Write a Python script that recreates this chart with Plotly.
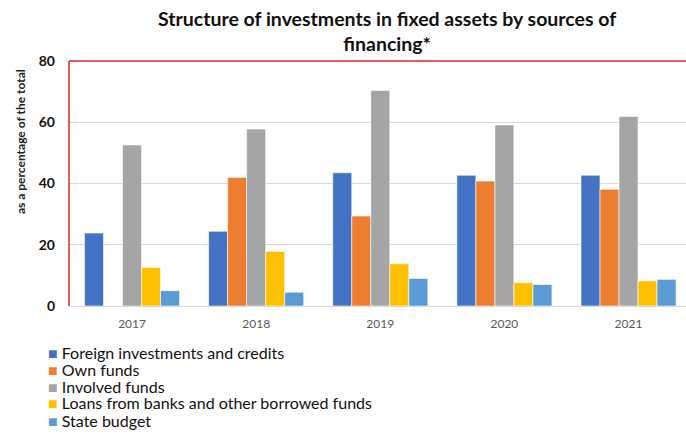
import plotly.graph_objects as go

years = ["2017", "2018", "2019", "2020", "2021"]
foreign = [23.8, 24.4, 43.5, 42.7, 42.7]
own = [None, 42.0, 29.4, 40.8, 38.1]
involved = [52.6, 57.8, 70.4, 59.1, 61.9]
loans = [12.6, 17.8, 13.8, 7.6, 8.2]
state = [5.0, 4.5, 9.0, 7.0, 8.7]

title_lines = ["Structure of investments in fixed assets by sources of", "financing*"]
y_title = "as a percentage of the total"

series = [
    ("Foreign investments and credits", foreign, "#4472C4"),
    ("Own funds", own, "#ED7D31"),
    ("Involved funds", involved, "#A5A5A5"),
    ("Loans from banks and other borrowed funds", loans, "#FFC000"),
    ("State budget", state, "#5B9BD5"),
]

fig = go.Figure()
for name, vals, col in series:
    fig.add_trace(go.Bar(x=years, y=vals, name=name, showlegend=False,
                         marker=dict(color=col, line=dict(color="white", width=0.6))))

W, H = 686, 434
L, R, T, B = 69, 0, 61, 128
PW, PH = W - L - R, H - T - B

def px_x(x):
    return (x - L) / PW

def px_y(y):
    return (H - B - y) / PH

annotations = [
    dict(text=f"<b>{y_title}</b>", xref="paper", yref="paper",
         x=px_x(20), y=px_y(142), xanchor="center", yanchor="middle", textangle=-90,
         showarrow=False, font=dict(size=12, color="#222222")),
    dict(text="<b>" + "<br>".join(title_lines) + "</b>", xref="paper", yref="paper",
         x=px_x(387), y=px_y(31), xanchor="center", yanchor="middle", showarrow=False,
         font=dict(size=19.5, color="#111111", family="Lato, sans-serif")),
]
# legend rows
for i, (name, vals, col) in enumerate(series):
    annotations.append(dict(
        text=f"<span style='color:{col}'>■</span> {name}",
        xref="paper", yref="paper", x=px_x(46), y=px_y(352 + 17 * i),
        xanchor="left", yanchor="middle", showarrow=False,
        font=dict(size=16, color="#111111", family="Lato, sans-serif")))

fig.update_layout(
    width=W, height=H,
    margin=dict(l=L, r=R, t=T, b=B, autoexpand=False),
    paper_bgcolor="white", plot_bgcolor="white",
    font=dict(family="Lato, Noto Sans, sans-serif", color="#222222"),
    barmode="group", bargap=0.234, bargroupgap=0,
    showlegend=False,
    xaxis=dict(type="category", range=[-0.508, 4.463], showgrid=False,
               showline=True, linecolor="#D9D9D9", linewidth=1,
               tickfont=dict(size=12, color="#595959"), ticks="", ticklabelstandoff=7),
    yaxis=dict(range=[0, 80], tickvals=[0, 20, 40, 60, 80], showgrid=True,
               gridcolor="#D9D9D9", gridwidth=1, zeroline=False, showline=False,
               tickfont=dict(size=14, color="#111111", family="Lato, sans-serif", weight="bold"),
               ticklabelstandoff=13),
    shapes=[
        dict(type="line", xref="paper", yref="paper", x0=0, x1=0, y0=0, y1=1,
             line=dict(color="#D62828", width=1.5)),
        dict(type="line", xref="paper", yref="paper", x0=0, x1=1, y0=1, y1=1,
             line=dict(color="#D62828", width=1.5)),
    ],
    annotations=annotations,
)

fig.write_html("out.html", config={"displayModeBar": False},
               post_script="document.body.style.margin='0';document.body.style.overflow='hidden';")
